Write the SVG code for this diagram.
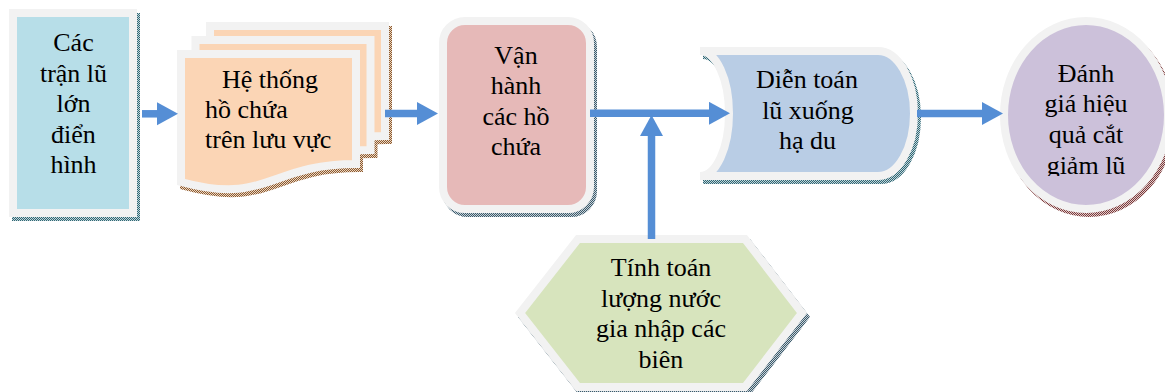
<svg xmlns="http://www.w3.org/2000/svg" width="1165" height="392" viewBox="0 0 1165 392">
<defs>
<style>
text{font-family:'Liberation Serif',Tinos,'Times New Roman',serif;font-size:26px;fill:#000000;}
.c{text-anchor:middle;}
.b{stroke:#f2f2f2;stroke-width:8;}
.con{stroke:#558ed5;stroke-width:7.5;fill:none;}
</style>
<pattern id="pTeal" width="2" height="2" patternUnits="userSpaceOnUse"><rect width="2" height="2" fill="#c3d5d9"/><rect width="1" height="1" fill="#2f6775"/><rect x="1" y="1" width="1" height="1" fill="#2f6775"/></pattern>
<pattern id="pSlate" width="2" height="2" patternUnits="userSpaceOnUse"><rect width="2" height="2" fill="#c8d2d8"/><rect width="1" height="1" fill="#3b5a6b"/><rect x="1" y="1" width="1" height="1" fill="#3b5a6b"/></pattern>
<pattern id="pBrown" width="2" height="2" patternUnits="userSpaceOnUse"><rect width="2" height="2" fill="#ead6c4"/><rect width="1" height="1" fill="#8c5a2e"/><rect x="1" y="1" width="1" height="1" fill="#8c5a2e"/></pattern>
<pattern id="pRed" width="2" height="2" patternUnits="userSpaceOnUse"><rect width="2" height="2" fill="#e2cccc"/><rect width="1" height="1" fill="#7a3b3b"/><rect x="1" y="1" width="1" height="1" fill="#7a3b3b"/></pattern>
<marker id="ah" markerUnits="userSpaceOnUse" markerWidth="22" markerHeight="24" refX="0" refY="11.5" orient="auto"><path d="M0,0 L21,11.5 L0,23 Z" fill="#558ed5"/></marker>
<clipPath id="clip5"><rect x="990" y="30" width="175" height="146"/></clipPath>
</defs>
<rect width="1165" height="392" fill="#ffffff"/>

<g id="n1">
<rect x="16" y="17" width="120" height="200" fill="url(#pTeal)" stroke="url(#pTeal)" stroke-width="8"/>
<rect class="b" x="13" y="13" width="120" height="200" fill="#b7dee8"/>
<g font-family="Liberation Serif, serif" font-size="26" text-anchor="middle">
<text class="c" x="73.5" y="51">Các</text>
<text class="c" x="73.5" y="81.5">trận lũ</text>
<text class="c" x="73.5" y="112">lớn</text>
<text class="c" x="73.5" y="142.5">điển</text>
<text class="c" x="73.5" y="173">hình</text>
</g>
</g>

<g id="n2">
<g transform="translate(3,4)" fill="url(#pBrown)" stroke="url(#pBrown)" stroke-width="8">
<path d="M210,26 H385 V136 C297.5,136 297.5,177.7 210,154 Z"/>
<path d="M195.5,40 H370.5 V150 C283,150 283,191.7 195.5,168 Z"/>
<path d="M181,54 H356 V164 C268.5,164 268.5,205.7 181,182 Z"/>
</g>
<path class="b" fill="#fbd5b5" d="M210,26 H385 V136 C297.5,136 297.5,177.7 210,154 Z"/>
<path class="b" fill="#fbd5b5" d="M195.5,40 H370.5 V150 C283,150 283,191.7 195.5,168 Z"/>
<path class="b" fill="#fbd5b5" d="M181,54 H356 V164 C268.5,164 268.5,205.7 181,182 Z"/>
<g font-family="Liberation Serif, serif" font-size="26">
<text x="222" y="88">Hệ thống</text>
<text x="205" y="118">hồ chứa</text>
<text x="205" y="147.5">trên lưu vực</text>
</g>
</g>

<g id="n3">
<rect x="446" y="25" width="147" height="188" rx="22" fill="url(#pSlate)" stroke="url(#pSlate)" stroke-width="8"/>
<rect class="b" x="443" y="21" width="147" height="188" rx="22" fill="#e6b9b8"/>
<g font-family="Liberation Serif, serif" font-size="26" text-anchor="middle">
<text class="c" x="516" y="63.5">Vận</text>
<text class="c" x="516" y="94">hành</text>
<text class="c" x="516" y="124.5">các hồ</text>
<text class="c" x="516" y="155">chứa</text>
</g>
</g>

<g id="n4">
<path transform="translate(3,4)" fill="url(#pTeal)" stroke="url(#pTeal)" stroke-width="8" d="M700,51 H878 A36,62.5 0 0 1 878,176 H700 A29,62.5 0 0 0 700,51 Z"/>
<path class="b" fill="#b9cde5" d="M700,51 H878 A36,62.5 0 0 1 878,176 H700 A29,62.5 0 0 0 700,51 Z"/>
<g font-family="Liberation Serif, serif" font-size="26" text-anchor="middle">
<text class="c" x="807" y="88">Diễn toán</text>
<text class="c" x="808" y="118.5">lũ xuống</text>
<text class="c" x="807.5" y="149">hạ du</text>
</g>
</g>

<g id="n5">
<ellipse cx="1089" cy="119" rx="82" ry="94" fill="url(#pRed)" stroke="url(#pRed)" stroke-width="8"/>
<ellipse class="b" cx="1086" cy="115" rx="82" ry="94" fill="#ccc1da"/>
<g clip-path="url(#clip5)" font-family="Liberation Serif, serif" font-size="26" text-anchor="middle">
<text class="c" x="1086" y="81.5">Đánh</text>
<text class="c" x="1086" y="112">giá hiệu</text>
<text class="c" x="1086" y="142.5">quả cắt</text>
<text class="c" x="1086" y="173.5">giảm lũ</text>
</g>
</g>

<g id="n6">
<polygon transform="translate(3,4)" fill="url(#pSlate)" stroke="url(#pSlate)" stroke-width="8" points="578,239 745,239 802,313 745,387 578,387 520,313"/>
<polygon class="b" fill="#d7e4bd" points="578,239 745,239 802,313 745,387 578,387 520,313"/>
<g font-family="Liberation Serif, serif" font-size="26" text-anchor="middle">
<text class="c" x="661" y="276">Tính toán</text>
<text class="c" x="661" y="306.5">lượng nước</text>
<text class="c" x="661" y="337">gia nhập các</text>
<text class="c" x="661" y="367.5">biên</text>
</g>
</g>

<g id="connectors">
<line class="con" x1="142" y1="113.8" x2="157" y2="113.8" marker-end="url(#ah)"/>
<line class="con" x1="385" y1="113.5" x2="417" y2="113.5" marker-end="url(#ah)"/>
<line class="con" x1="590" y1="113.3" x2="709" y2="113.3" marker-end="url(#ah)"/>
<line class="con" x1="651.5" y1="239" x2="651.5" y2="136" marker-end="url(#ah)"/>
<line class="con" x1="917" y1="113.5" x2="982" y2="113.5" marker-end="url(#ah)"/>
</g>
</svg>
